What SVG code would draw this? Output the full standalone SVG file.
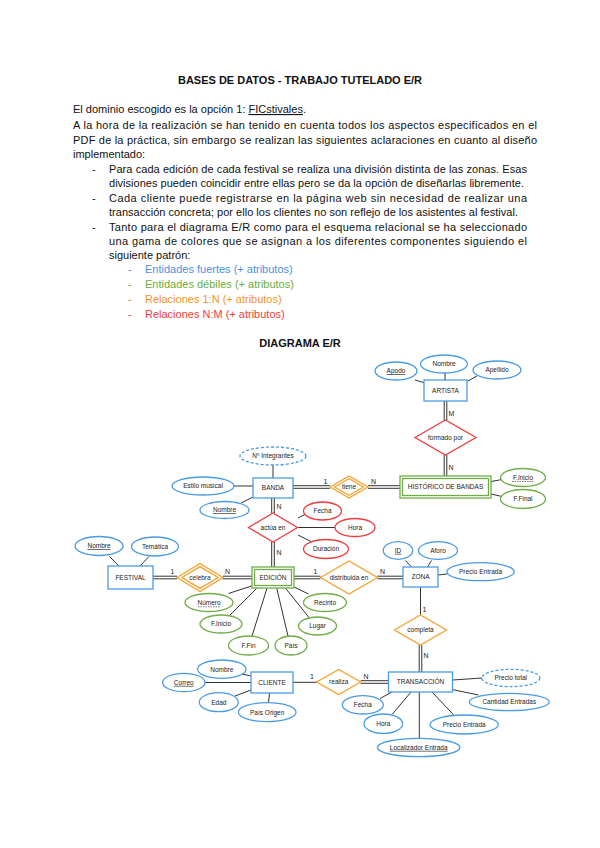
<svg xmlns="http://www.w3.org/2000/svg" width="600" height="848" viewBox="0 0 600 848">
<style>
text{font-family:"Liberation Sans",Arial,sans-serif;fill:#111}
.p{font-size:11px}
.h{font-size:11px;font-weight:bold}
.t{font-size:6.5px;text-anchor:middle;fill:#222}
.c{font-size:7px;fill:#222}
.eb{fill:#fff;stroke:#4a9be6;stroke-width:1.3}
.eg{fill:#fff;stroke:#70ad47;stroke-width:1.3}
.er{fill:#fff;stroke:#f23c3c;stroke-width:1.3}
.rb{fill:#fff;stroke:#4a9be6;stroke-width:1.3}
.rg{fill:#fff;stroke:#70ad47;stroke-width:1.3}
.dr{fill:#fff;stroke:#f23c3c;stroke-width:1.3}
.do{fill:#fff;stroke:#f9a02b;stroke-width:1.3}
.dash{stroke-dasharray:3 2}
.ln{stroke:#333;stroke-width:1;fill:none}
.ul{text-decoration:underline}
.du{stroke:#222;stroke-width:0.6;stroke-dasharray:1.5 1}
</style>

<!-- Header text -->
<g id="text">
<text class="h" x="300" y="84" text-anchor="middle">BASES DE DATOS - TRABAJO TUTELADO E/R</text>
<text class="p" x="73" y="113">El dominio escogido es la opción 1: <tspan class="ul">FICstivales</tspan>.</text>
<text class="p" x="73" y="129" textLength="464" lengthAdjust="spacing">A la hora de la realización se han tenido en cuenta todos los aspectos especificados en el</text>
<text class="p" x="73" y="144" textLength="464" lengthAdjust="spacing">PDF de la práctica, sin embargo se realizan las siguientes aclaraciones en cuanto al diseño</text>
<text class="p" x="73" y="158">implementado:</text>
<text class="p" x="92" y="173">-</text>
<text class="p" x="109" y="173" textLength="418" lengthAdjust="spacing">Para cada edición de cada festival se realiza una división distinta de las zonas. Esas</text>
<text class="p" x="109" y="187" textLength="415" lengthAdjust="spacing">divisiones pueden coincidir entre ellas pero se da la opción de diseñarlas libremente.</text>
<text class="p" x="92" y="202">-</text>
<text class="p" x="109" y="202" textLength="418" lengthAdjust="spacing">Cada cliente puede registrarse en la página web sin necesidad de realizar una</text>
<text class="p" x="109" y="216" textLength="409" lengthAdjust="spacing">transacción concreta; por ello los clientes no son reflejo de los asistentes al festival.</text>
<text class="p" x="92" y="231">-</text>
<text class="p" x="109" y="231" textLength="418" lengthAdjust="spacing">Tanto para el diagrama E/R como para el esquema relacional se ha seleccionado</text>
<text class="p" x="109" y="245" textLength="418" lengthAdjust="spacing">una gama de colores que se asignan a los diferentes componentes siguiendo el</text>
<text class="p" x="109" y="259">siguiente patrón:</text>
<text class="p" x="128" y="273" style="fill:#4a90e2">-</text>
<text class="p" x="145" y="273" style="fill:#4a90e2">Entidades fuertes (+ atributos)</text>
<text class="p" x="128" y="288" style="fill:#6aae3e">-</text>
<text class="p" x="145" y="288" style="fill:#6aae3e">Entidades débiles (+ atributos)</text>
<text class="p" x="128" y="303" style="fill:#f7941d">-</text>
<text class="p" x="145" y="303" style="fill:#f7941d">Relaciones 1:N (+ atributos)</text>
<text class="p" x="128" y="318" style="fill:#ee3b3b">-</text>
<text class="p" x="145" y="318" style="fill:#ee3b3b">Relaciones N:M (+ atributos)</text>
<text class="h" x="300" y="347" text-anchor="middle">DIAGRAMA E/R</text>
</g>

<!-- Connectors -->
<g id="connectors">
<!-- ARTISTA attrs -->
<line class="ln" x1="415" y1="380" x2="425" y2="383"/>
<line class="ln" x1="445" y1="373" x2="445" y2="380"/>
<line class="ln" x1="468" y1="381" x2="477" y2="376"/>
<!-- ARTISTA - formado por (double) -->
<line class="ln" x1="444.2" y1="401" x2="444.2" y2="420"/>
<line class="ln" x1="446.8" y1="401" x2="446.8" y2="420"/>
<line class="ln" x1="444.2" y1="455" x2="444.2" y2="476"/>
<line class="ln" x1="446.8" y1="455" x2="446.8" y2="476"/>
<!-- HISTORICO attrs -->
<line class="ln" x1="491" y1="481.5" x2="502" y2="479.5"/>
<line class="ln" x1="491" y1="494" x2="502" y2="496.5"/>
<!-- BANDA attrs -->
<line class="ln" x1="273" y1="465" x2="273" y2="478"/>
<line class="ln" x1="234" y1="486" x2="253" y2="486"/>
<line class="ln" x1="241" y1="503" x2="253" y2="497"/>
<!-- BANDA - tiene - HISTORICO -->
<line class="ln" x1="293" y1="485.7" x2="330" y2="485.7"/>
<line class="ln" x1="293" y1="488.3" x2="330" y2="488.3"/>
<line class="ln" x1="368" y1="485.7" x2="400" y2="485.7"/>
<line class="ln" x1="368" y1="488.3" x2="400" y2="488.3"/>
<!-- BANDA - actua en - EDICION -->
<line class="ln" x1="271.7" y1="498" x2="271.7" y2="513"/>
<line class="ln" x1="274.3" y1="498" x2="274.3" y2="513"/>
<line class="ln" x1="271.7" y1="542" x2="271.7" y2="567"/>
<line class="ln" x1="274.3" y1="542" x2="274.3" y2="567"/>
<!-- actua en attrs -->
<line class="ln" x1="298" y1="518" x2="305" y2="514.5"/>
<line class="ln" x1="297.5" y1="527.5" x2="335" y2="527.5"/>
<line class="ln" x1="298" y1="535" x2="312" y2="542"/>
<!-- FESTIVAL attrs -->
<line class="ln" x1="109.5" y1="556.5" x2="119" y2="566"/>
<line class="ln" x1="149" y1="556.5" x2="140" y2="566"/>
<!-- FESTIVAL - celebra - EDICION -->
<line class="ln" x1="153" y1="576.2" x2="177" y2="576.2"/>
<line class="ln" x1="153" y1="578.8" x2="177" y2="578.8"/>
<line class="ln" x1="223" y1="576.2" x2="252" y2="576.2"/>
<line class="ln" x1="223" y1="578.8" x2="252" y2="578.8"/>
<!-- EDICION - distribuida en - ZONA -->
<line class="ln" x1="294" y1="576.2" x2="320.5" y2="576.2"/>
<line class="ln" x1="294" y1="578.8" x2="320.5" y2="578.8"/>
<line class="ln" x1="377.5" y1="576.2" x2="403" y2="576.2"/>
<line class="ln" x1="377.5" y1="578.8" x2="403" y2="578.8"/>
<!-- EDICION attrs -->
<line class="ln" x1="254.5" y1="585" x2="228.5" y2="593.5"/>
<line class="ln" x1="260" y1="585" x2="229.5" y2="615.5"/>
<line class="ln" x1="268" y1="585" x2="252" y2="636"/>
<line class="ln" x1="276" y1="585" x2="288" y2="636"/>
<line class="ln" x1="283" y1="585" x2="309" y2="617.5"/>
<line class="ln" x1="290" y1="585" x2="308.5" y2="594"/>
<!-- ZONA attrs -->
<line class="ln" x1="405.5" y1="560.5" x2="411.5" y2="567"/>
<line class="ln" x1="431.5" y1="560.5" x2="427.5" y2="567"/>
<line class="ln" x1="438" y1="575" x2="447" y2="574"/>
<!-- ZONA - completa - TRANSACCION -->
<line class="ln" x1="420.5" y1="587" x2="420.5" y2="615"/>
<line class="ln" x1="419.2" y1="645" x2="419.2" y2="672"/>
<line class="ln" x1="421.8" y1="645" x2="421.8" y2="672"/>
<!-- CLIENTE - realiza - TRANSACCION -->
<line class="ln" x1="293" y1="682.3" x2="316.7" y2="682.3"/>
<line class="ln" x1="360.7" y1="680.7" x2="388.5" y2="680.7"/>
<line class="ln" x1="360.7" y1="683.3" x2="388.5" y2="683.3"/>
<!-- CLIENTE attrs -->
<line class="ln" x1="242" y1="674" x2="251" y2="676"/>
<line class="ln" x1="205" y1="682.5" x2="251" y2="682.5"/>
<line class="ln" x1="235" y1="696" x2="251" y2="690"/>
<line class="ln" x1="269.5" y1="693" x2="268.5" y2="702.7"/>
<!-- TRANSACCION attrs -->
<line class="ln" x1="452.5" y1="680" x2="482" y2="678"/>
<line class="ln" x1="452" y1="689.5" x2="478.5" y2="695"/>
<line class="ln" x1="392" y1="692" x2="380" y2="698.5"/>
<line class="ln" x1="411" y1="692" x2="392" y2="714.5"/>
<line class="ln" x1="419.3" y1="692" x2="419.3" y2="738.3"/>
<line class="ln" x1="432" y1="692" x2="454" y2="715.3"/>
<!-- cardinalities -->
<text class="c" x="448.5" y="416">M</text>
<text class="c" x="448.5" y="470">N</text>
<text class="c" x="323.5" y="484">1</text>
<text class="c" x="371" y="484">N</text>
<text class="c" x="276.5" y="509">N</text>
<text class="c" x="276.5" y="554.5">N</text>
<text class="c" x="170.5" y="574">1</text>
<text class="c" x="225" y="574">N</text>
<text class="c" x="313.5" y="574">1</text>
<text class="c" x="380" y="574">N</text>
<text class="c" x="422.5" y="612">1</text>
<text class="c" x="423.5" y="658">N</text>
<text class="c" x="310" y="679">1</text>
<text class="c" x="363.5" y="679">N</text>
</g>

<!-- ARTISTA -->
<g id="artista">
<rect class="rb" x="424" y="380" width="43" height="21"/>
<text class="t" x="445.5" y="392.7">ARTISTA</text>
</g>
<g id="artista-apodo"><ellipse class="eb" cx="396" cy="371" rx="21" ry="9"/><text class="t ul" x="396" y="373.3">Apodo</text></g>
<g id="artista-nombre"><ellipse class="eb" cx="444" cy="364" rx="23.5" ry="9"/><text class="t" x="444" y="366.3">Nombre</text></g>
<g id="artista-apellido"><ellipse class="eb" cx="497" cy="370" rx="24" ry="9"/><text class="t" x="497" y="372.3">Apellido</text></g>

<!-- formado por -->
<g id="formado-por">
<polygon class="dr" points="415,437.5 445.5,420 476,437.5 445.5,455"/>
<text class="t" x="445.5" y="439.8">formado por</text>
</g>

<!-- HISTORICO DE BANDAS -->
<g id="historico">
<rect class="rg" x="400" y="476" width="91" height="22"/>
<rect class="rg" x="402.5" y="478.5" width="86" height="17"/>
<text class="t" x="445.5" y="489.3">HISTÓRICO DE BANDAS</text>
</g>
<g id="historico-finicio"><ellipse class="eg" cx="523" cy="477.5" rx="22.5" ry="9"/><text class="t" x="523" y="479.8">F.Inicio</text><line class="du" x1="512" y1="481.5" x2="534" y2="481.5"/></g>
<g id="historico-ffinal"><ellipse class="eg" cx="523" cy="499" rx="22.5" ry="9.5"/><text class="t" x="523" y="501.3">F.Final</text></g>

<!-- BANDA -->
<g id="banda">
<rect class="rb" x="253" y="478" width="40" height="20"/>
<text class="t" x="273" y="490.3">BANDA</text>
</g>
<g id="banda-integrantes"><ellipse class="eb dash" cx="273" cy="456" rx="33" ry="9"/><text class="t" x="273" y="458.3">Nº Integrantes</text></g>
<g id="banda-estilo"><ellipse class="eb" cx="203" cy="486" rx="31" ry="9"/><text class="t" x="203" y="488.3">Estilo musical</text></g>
<g id="banda-nombre"><ellipse class="eb" cx="224.5" cy="510" rx="24.5" ry="8.5"/><text class="t ul" x="224.5" y="512.3">Nombre</text></g>

<!-- tiene -->
<g id="tiene">
<polygon class="do" points="330,487 349,476 368,487 349,498"/>
<polygon class="do" points="334.5,487 349,478.8 363.5,487 349,495.2"/>
<text class="t" x="349" y="489.3">tiene</text>
</g>

<!-- actua en -->
<g id="actua-en">
<polygon class="dr" points="248.5,527.5 273,513 297.5,527.5 273,542"/>
<text class="t" x="273" y="529.8">actúa en</text>
</g>
<g id="actua-fecha"><ellipse class="er" cx="322.5" cy="511" rx="19" ry="9"/><text class="t" x="322.5" y="513.3">Fecha</text></g>
<g id="actua-hora"><ellipse class="er" cx="355" cy="527.5" rx="20" ry="9"/><text class="t" x="355" y="529.8">Hora</text></g>
<g id="actua-duracion"><ellipse class="er" cx="326" cy="549" rx="22.5" ry="9.5"/><text class="t" x="326" y="551.3">Duración</text></g>

<!-- FESTIVAL -->
<g id="festival">
<rect class="rb" x="108" y="566" width="45" height="23"/>
<text class="t" x="130.5" y="579.8">FESTIVAL</text>
</g>
<g id="festival-nombre"><ellipse class="eb" cx="99" cy="546" rx="24" ry="9.5"/><text class="t ul" x="99" y="548.3">Nombre</text></g>
<g id="festival-tematica"><ellipse class="eb" cx="155" cy="546.5" rx="23.5" ry="9.5"/><text class="t" x="155" y="548.8">Temática</text></g>

<!-- celebra -->
<g id="celebra">
<polygon class="do" points="177,577.5 200,563.5 223,577.5 200,591.5"/>
<polygon class="do" points="182,577.5 200,566.6 218,577.5 200,588.4"/>
<text class="t" x="200" y="579.8">celebra</text>
</g>

<!-- EDICION -->
<g id="edicion">
<rect class="rg" x="252" y="567" width="42" height="21"/>
<rect class="rg" x="254.5" y="569.5" width="37" height="16"/>
<text class="t" x="273" y="579.8">EDICIÓN</text>
</g>
<g id="edicion-numero"><ellipse class="eg" cx="209" cy="602.5" rx="24" ry="9"/><text class="t" x="209" y="604.8">Número</text><line class="du" x1="198" y1="606.8" x2="220" y2="606.8"/></g>
<g id="edicion-finicio"><ellipse class="eg" cx="221" cy="624" rx="21" ry="9"/><text class="t" x="221" y="626.3">F.Inicio</text></g>
<g id="edicion-ffin"><ellipse class="eg" cx="248.5" cy="645.5" rx="20" ry="9.5"/><text class="t" x="248.5" y="647.8">F.Fin</text></g>
<g id="edicion-pais"><ellipse class="eg" cx="291" cy="645.5" rx="16" ry="9.5"/><text class="t" x="291" y="647.8">País</text></g>
<g id="edicion-lugar"><ellipse class="eg" cx="317.5" cy="626" rx="19" ry="9"/><text class="t" x="317.5" y="628.3">Lugar</text></g>
<g id="edicion-recinto"><ellipse class="eg" cx="325" cy="602.5" rx="21.5" ry="9"/><text class="t" x="325" y="604.8">Recinto</text></g>

<!-- distribuida en -->
<g id="distribuida-en">
<polygon class="do" points="320.5,577.5 349,561 377.5,577.5 349,594"/>
<text class="t" x="349" y="579.8">distribuida en</text>
</g>

<!-- ZONA -->
<g id="zona">
<rect class="rb" x="403" y="567" width="35" height="20"/>
<text class="t" x="420.5" y="579.3">ZONA</text>
</g>
<g id="zona-id"><ellipse class="eb" cx="398" cy="550.5" rx="14.7" ry="8.8"/><text class="t ul" x="398" y="552.8">ID</text></g>
<g id="zona-aforo"><ellipse class="eb" cx="438" cy="550.5" rx="19.5" ry="8.8"/><text class="t" x="438" y="552.8">Aforo</text></g>
<g id="zona-precio"><ellipse class="eb" cx="480.5" cy="571.7" rx="33.7" ry="9"/><text class="t" x="480.5" y="574">Precio Entrada</text></g>

<!-- completa -->
<g id="completa">
<polygon class="do" points="394.5,630 420.5,615 446.5,630 420.5,645"/>
<text class="t" x="420.5" y="632.3">completa</text>
</g>

<!-- TRANSACCION -->
<g id="transaccion">
<rect class="rb" x="388.5" y="672" width="64" height="20"/>
<text class="t" x="420.5" y="684.3">TRANSACCIÓN</text>
</g>
<g id="trans-preciototal"><ellipse class="eb dash" cx="510.8" cy="678" rx="29" ry="8.7"/><text class="t" x="510.8" y="680.3">Precio total</text></g>
<g id="trans-cantidad"><ellipse class="eb" cx="509.3" cy="702" rx="40" ry="8.7"/><text class="t" x="509.3" y="704.3">Cantidad Entradas</text></g>
<g id="trans-fecha"><ellipse class="eb" cx="362.8" cy="704.8" rx="20.5" ry="9.2"/><text class="t" x="362.8" y="707.1">Fecha</text></g>
<g id="trans-hora"><ellipse class="eb" cx="383.3" cy="723.7" rx="19.3" ry="9.7"/><text class="t" x="383.3" y="726">Hora</text></g>
<g id="trans-localizador"><ellipse class="eb" cx="418.7" cy="747.5" rx="41.3" ry="9.2"/><text class="t ul" x="418.7" y="749.8">Localizador Entrada</text></g>
<g id="trans-precio"><ellipse class="eb" cx="464.2" cy="724.5" rx="34.2" ry="9.5"/><text class="t" x="464.2" y="726.8">Precio Entrada</text></g>

<!-- realiza -->
<g id="realiza">
<polygon class="do" points="316.7,682 338.7,669.5 360.7,682 338.7,694.5"/>
<text class="t" x="338.7" y="684.3">realiza</text>
</g>

<!-- CLIENTE -->
<g id="cliente">
<rect class="rb" x="251" y="672" width="42" height="21"/>
<text class="t" x="272" y="684.8">CLIENTE</text>
</g>
<g id="cliente-nombre"><ellipse class="eb" cx="221.8" cy="669.2" rx="24.2" ry="9.2"/><text class="t" x="221.8" y="671.5">Nombre</text></g>
<g id="cliente-correo"><ellipse class="eb" cx="183.8" cy="682.5" rx="21.2" ry="9.2"/><text class="t ul" x="183.8" y="684.8">Correo</text></g>
<g id="cliente-edad"><ellipse class="eb" cx="218.8" cy="702.2" rx="19.5" ry="9.5"/><text class="t" x="218.8" y="704.5">Edad</text></g>
<g id="cliente-pais"><ellipse class="eb" cx="267.2" cy="712.2" rx="28.8" ry="9.5"/><text class="t" x="267.2" y="714.5">País Origen</text></g>
</svg>
